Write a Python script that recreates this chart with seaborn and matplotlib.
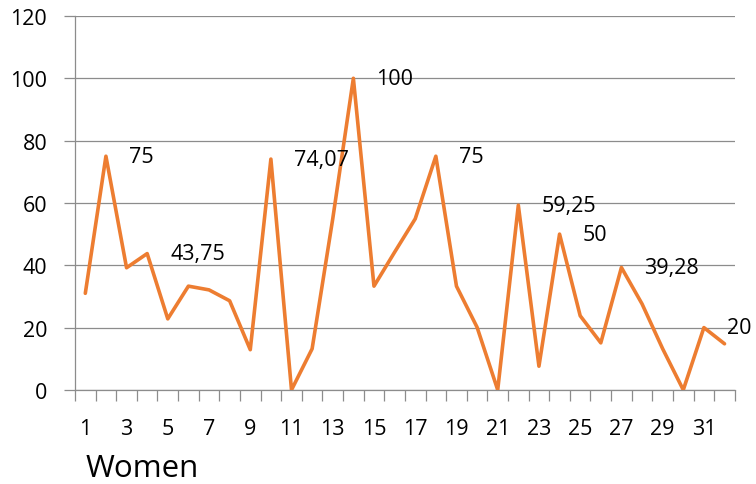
import matplotlib
matplotlib.use("Agg")
import matplotlib.pyplot as plt
import numpy as np
import pandas as pd
import seaborn as sns

# Values per woman
women = list(range(1, 33))
scores = [31, 75, 39.2, 43.75, 22.8, 33.3, 32.1, 28.6, 12.9, 74.07,
          0, 13.2, 54.9, 100, 33.3, 44.2, 54.9, 75, 33.3, 20.1,
          0, 59.25, 7.6, 50, 23.8, 15.1, 39.28, 27.6, 13.2, 0,
          20, 14.8]
# points that carry a data label
labelled = [2, 4, 10, 14, 18, 22, 24, 27, 31]
y_ticks = [0, 20, 40, 60, 80, 100, 120]
x_tick_labels = list(range(1, 32, 2))

df = pd.DataFrame({"woman": women, "score": scores})

sns.set_style("white")
plt.rcParams["font.family"] = ["Open Sans", "DejaVu Sans"]
plt.rcParams["text.color"] = "black"
plt.rcParams["xtick.labelcolor"] = "black"
plt.rcParams["ytick.labelcolor"] = "black"

fig, ax = plt.subplots(figsize=(7.56, 4.85), dpi=100)
fig.subplots_adjust(left=0.0992, right=0.972, top=0.965, bottom=0.194)

sns.lineplot(data=df, x="woman", y="score", color="#ED7D31",
             linewidth=2.6, ax=ax, zorder=3)

for w in labelled:
    v = scores[w - 1]
    txt = f"{v:g}".replace(".", ",")
    ax.annotate(txt, xy=(w, v), xytext=(23, 0), textcoords="offset pixels",
                ha="left", va="center", fontsize=15.5, color="black",
                annotation_clip=False)

ax.set_xlim(0.5, 32.5)
ax.set_ylim(0, 120)
ax.set_yticks(y_ticks)
ax.set_xticks(x_tick_labels)
ax.set_xticklabels([str(t) for t in x_tick_labels])
ax.set_xticks(np.arange(0.5, 33, 1), minor=True)

ax.yaxis.grid(True, color="#8c8c8c", linewidth=0.9)
ax.xaxis.grid(False)
ax.tick_params(axis="y", which="major", length=8, width=0.9, color="#8c8c8c",
               direction="out", labelsize=15.5, pad=12, left=True)
ax.tick_params(axis="x", which="major", length=0, labelsize=15.5, pad=20)
ax.tick_params(axis="x", which="minor", length=8, width=0.9, color="#8c8c8c",
               direction="out", bottom=True)

for s in ["top", "right"]:
    ax.spines[s].set_visible(False)
for s in ["left", "bottom"]:
    ax.spines[s].set_color("#8c8c8c")
    ax.spines[s].set_linewidth(0.9)

ax.set_xlabel("")
ax.set_ylabel("")

fig.text(86 / 756, 0.002, "Women", fontsize=22.5, ha="left", va="bottom")

fig.savefig("out.png", dpi=100)
plt.close(fig)
